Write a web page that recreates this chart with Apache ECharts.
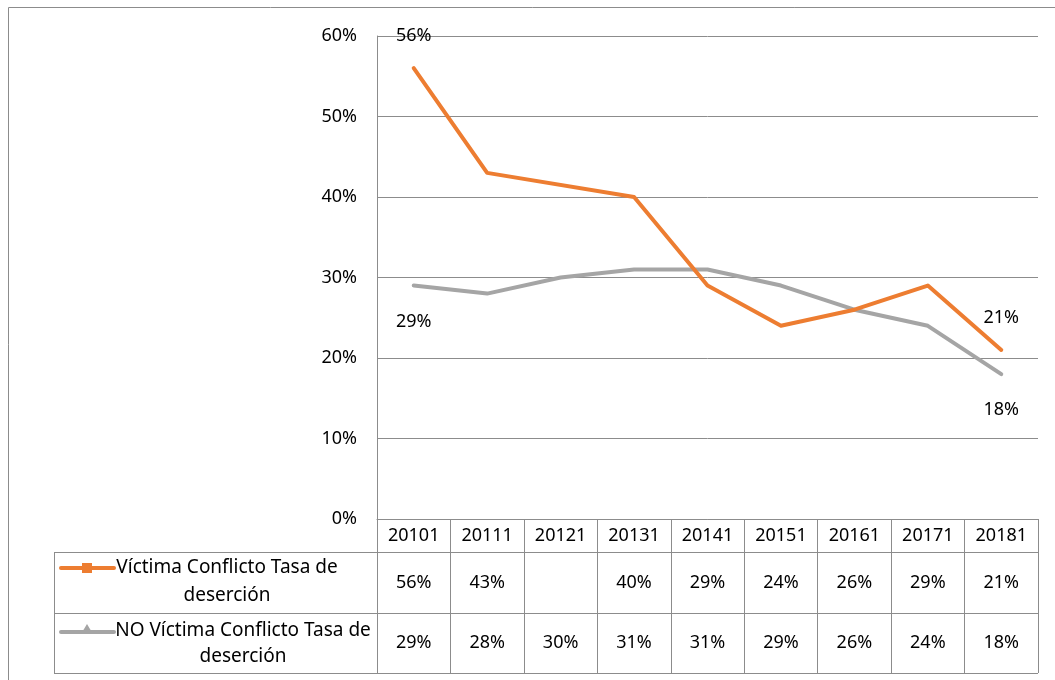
<!DOCTYPE html>
<html>
<head>
<meta charset="utf-8">
<script src="https://cdn.jsdelivr.net/npm/echarts@6/dist/echarts.min.js"></script>
<style>
  html, body { margin: 0; padding: 0; background: #fff; }
  #main { width: 1055px; height: 680px; }
</style>
</head>
<body>
<div id="main"></div>
<script>
// datos
const periodos = ['20101', '20111', '20121', '20131', '20141', '20151', '20161', '20171', '20181'];
const victima = [56, 43, null, 40, 29, 24, 26, 29, 21];
const noVictima = [29, 28, 30, 31, 31, 29, 26, 24, 18];
const nombres = ['Víctima Conflicto Tasa de deserción', 'NO Víctima Conflicto Tasa de deserción'];
const ticksY = [0, 10, 20, 30, 40, 50, 60];

const FONT = 'Noto Sans';
const GRIS = '#8c8c8c';
const NARANJA = '#ED7D31';
const GRIS_SERIE = '#A5A5A5';

const pct = v => (v == null ? ' ' : v + '%');

// solo primer y ultimo punto llevan etiqueta
function conEtiquetas(arr, pos, dist) {
  return arr.map((v, i) => {
    const ext = (i === 0 || i === arr.length - 1);
    return {
      value: v,
      label: { show: ext, position: pos, distance: dist, formatter: p => p.value + '%' }
    };
  });
}

let myChart = echarts.init(document.getElementById('main'));

myChart.setOption({
  animation: false,
  textStyle: { fontFamily: FONT },
  grid: { left: 377, right: 17, top: 36, bottom: 161, containLabel: false },
  xAxis: {
    type: 'category',
    data: periodos,
    boundaryGap: true,
    axisLine: { show: true, lineStyle: { color: GRIS, width: 1 } },
    axisTick: { show: true, interval: 0, length: 154, lineStyle: { color: GRIS, width: 1 } },
    splitLine: { show: false },
    axisLabel: {
      interval: 0,
      margin: 0,
      formatter: (val, idx) =>
        '{h|' + val + '}\n{a|' + pct(victima[idx]) + '}\n{b|' + pct(noVictima[idx]) + '}',
      rich: {
        h: { fontSize: 18, lineHeight: 33, color: '#000', fontFamily: FONT },
        a: { fontSize: 18, lineHeight: 61, color: '#000', fontFamily: FONT },
        b: { fontSize: 18, lineHeight: 60, color: '#000', fontFamily: FONT }
      }
    }
  },
  yAxis: {
    type: 'value',
    min: ticksY[0],
    max: ticksY[ticksY.length - 1],
    interval: 10,
    axisLine: { show: true, lineStyle: { color: GRIS, width: 1 } },
    axisTick: { show: false },
    splitLine: { show: true, lineStyle: { color: GRIS, width: 1 } },
    axisLabel: { formatter: '{value}%', fontSize: 18, color: '#000', margin: 20, fontFamily: FONT }
  },
  series: [
    {
      name: nombres[0],
      type: 'line',
      data: conEtiquetas(victima, 'top', 23),
      connectNulls: true,
      showSymbol: true,
      symbol: 'circle',
      symbolSize: 0,
      lineStyle: { color: NARANJA, width: 4, cap: 'round', join: 'round' },
      itemStyle: { color: NARANJA },
      label: { color: '#000', fontSize: 18, fontFamily: FONT },
      z: 3
    },
    {
      name: nombres[1],
      type: 'line',
      data: conEtiquetas(noVictima, 'bottom', 27),
      showSymbol: true,
      symbol: 'circle',
      symbolSize: 0,
      lineStyle: { color: GRIS_SERIE, width: 4, cap: 'round', join: 'round' },
      itemStyle: { color: GRIS_SERIE },
      label: { color: '#000', fontSize: 18, fontFamily: FONT },
      z: 2
    }
  ],
  graphic: [
    // marco exterior
    { type: 'rect', shape: { x: 8.5, y: 7.5, width: 1100, height: 700 }, style: { fill: null, stroke: GRIS, lineWidth: 1 }, silent: true },
    // tabla de datos: lineas horizontales y borde izquierdo
    { type: 'line', shape: { x1: 54, y1: 552.5, x2: 1038, y2: 552.5 }, style: { stroke: GRIS, lineWidth: 1 } },
    { type: 'line', shape: { x1: 54, y1: 613.5, x2: 1038, y2: 613.5 }, style: { stroke: GRIS, lineWidth: 1 } },
    { type: 'line', shape: { x1: 54, y1: 673.5, x2: 1038, y2: 673.5 }, style: { stroke: GRIS, lineWidth: 1 } },
    { type: 'line', shape: { x1: 54.5, y1: 552, x2: 54.5, y2: 674 }, style: { stroke: GRIS, lineWidth: 1 } },
    // claves de leyenda
    { type: 'line', shape: { x1: 61, y1: 568, x2: 114, y2: 568 }, style: { stroke: NARANJA, lineWidth: 4, lineCap: 'round' } },
    { type: 'rect', shape: { x: 82, y: 563, width: 10, height: 10 }, style: { fill: NARANJA } },
    { type: 'text', x: 227, y: 582, style: { text: 'Víctima Conflicto Tasa de\ndeserción', fontSize: 19, fontFamily: FONT, fill: '#000', align: 'center', verticalAlign: 'middle', lineHeight: 28 } },
    { type: 'line', shape: { x1: 61, y1: 632, x2: 114, y2: 632 }, style: { stroke: GRIS_SERIE, lineWidth: 4, lineCap: 'round' } },
    { type: 'polygon', shape: { points: [[87, 624], [93, 634], [81, 634]] }, style: { fill: GRIS_SERIE } },
    { type: 'text', x: 243, y: 644, style: { text: 'NO Víctima Conflicto Tasa de\ndeserción', fontSize: 19, fontFamily: FONT, fill: '#000', align: 'center', verticalAlign: 'middle', lineHeight: 26 } }
  ]
});
</script>
</body>
</html>
